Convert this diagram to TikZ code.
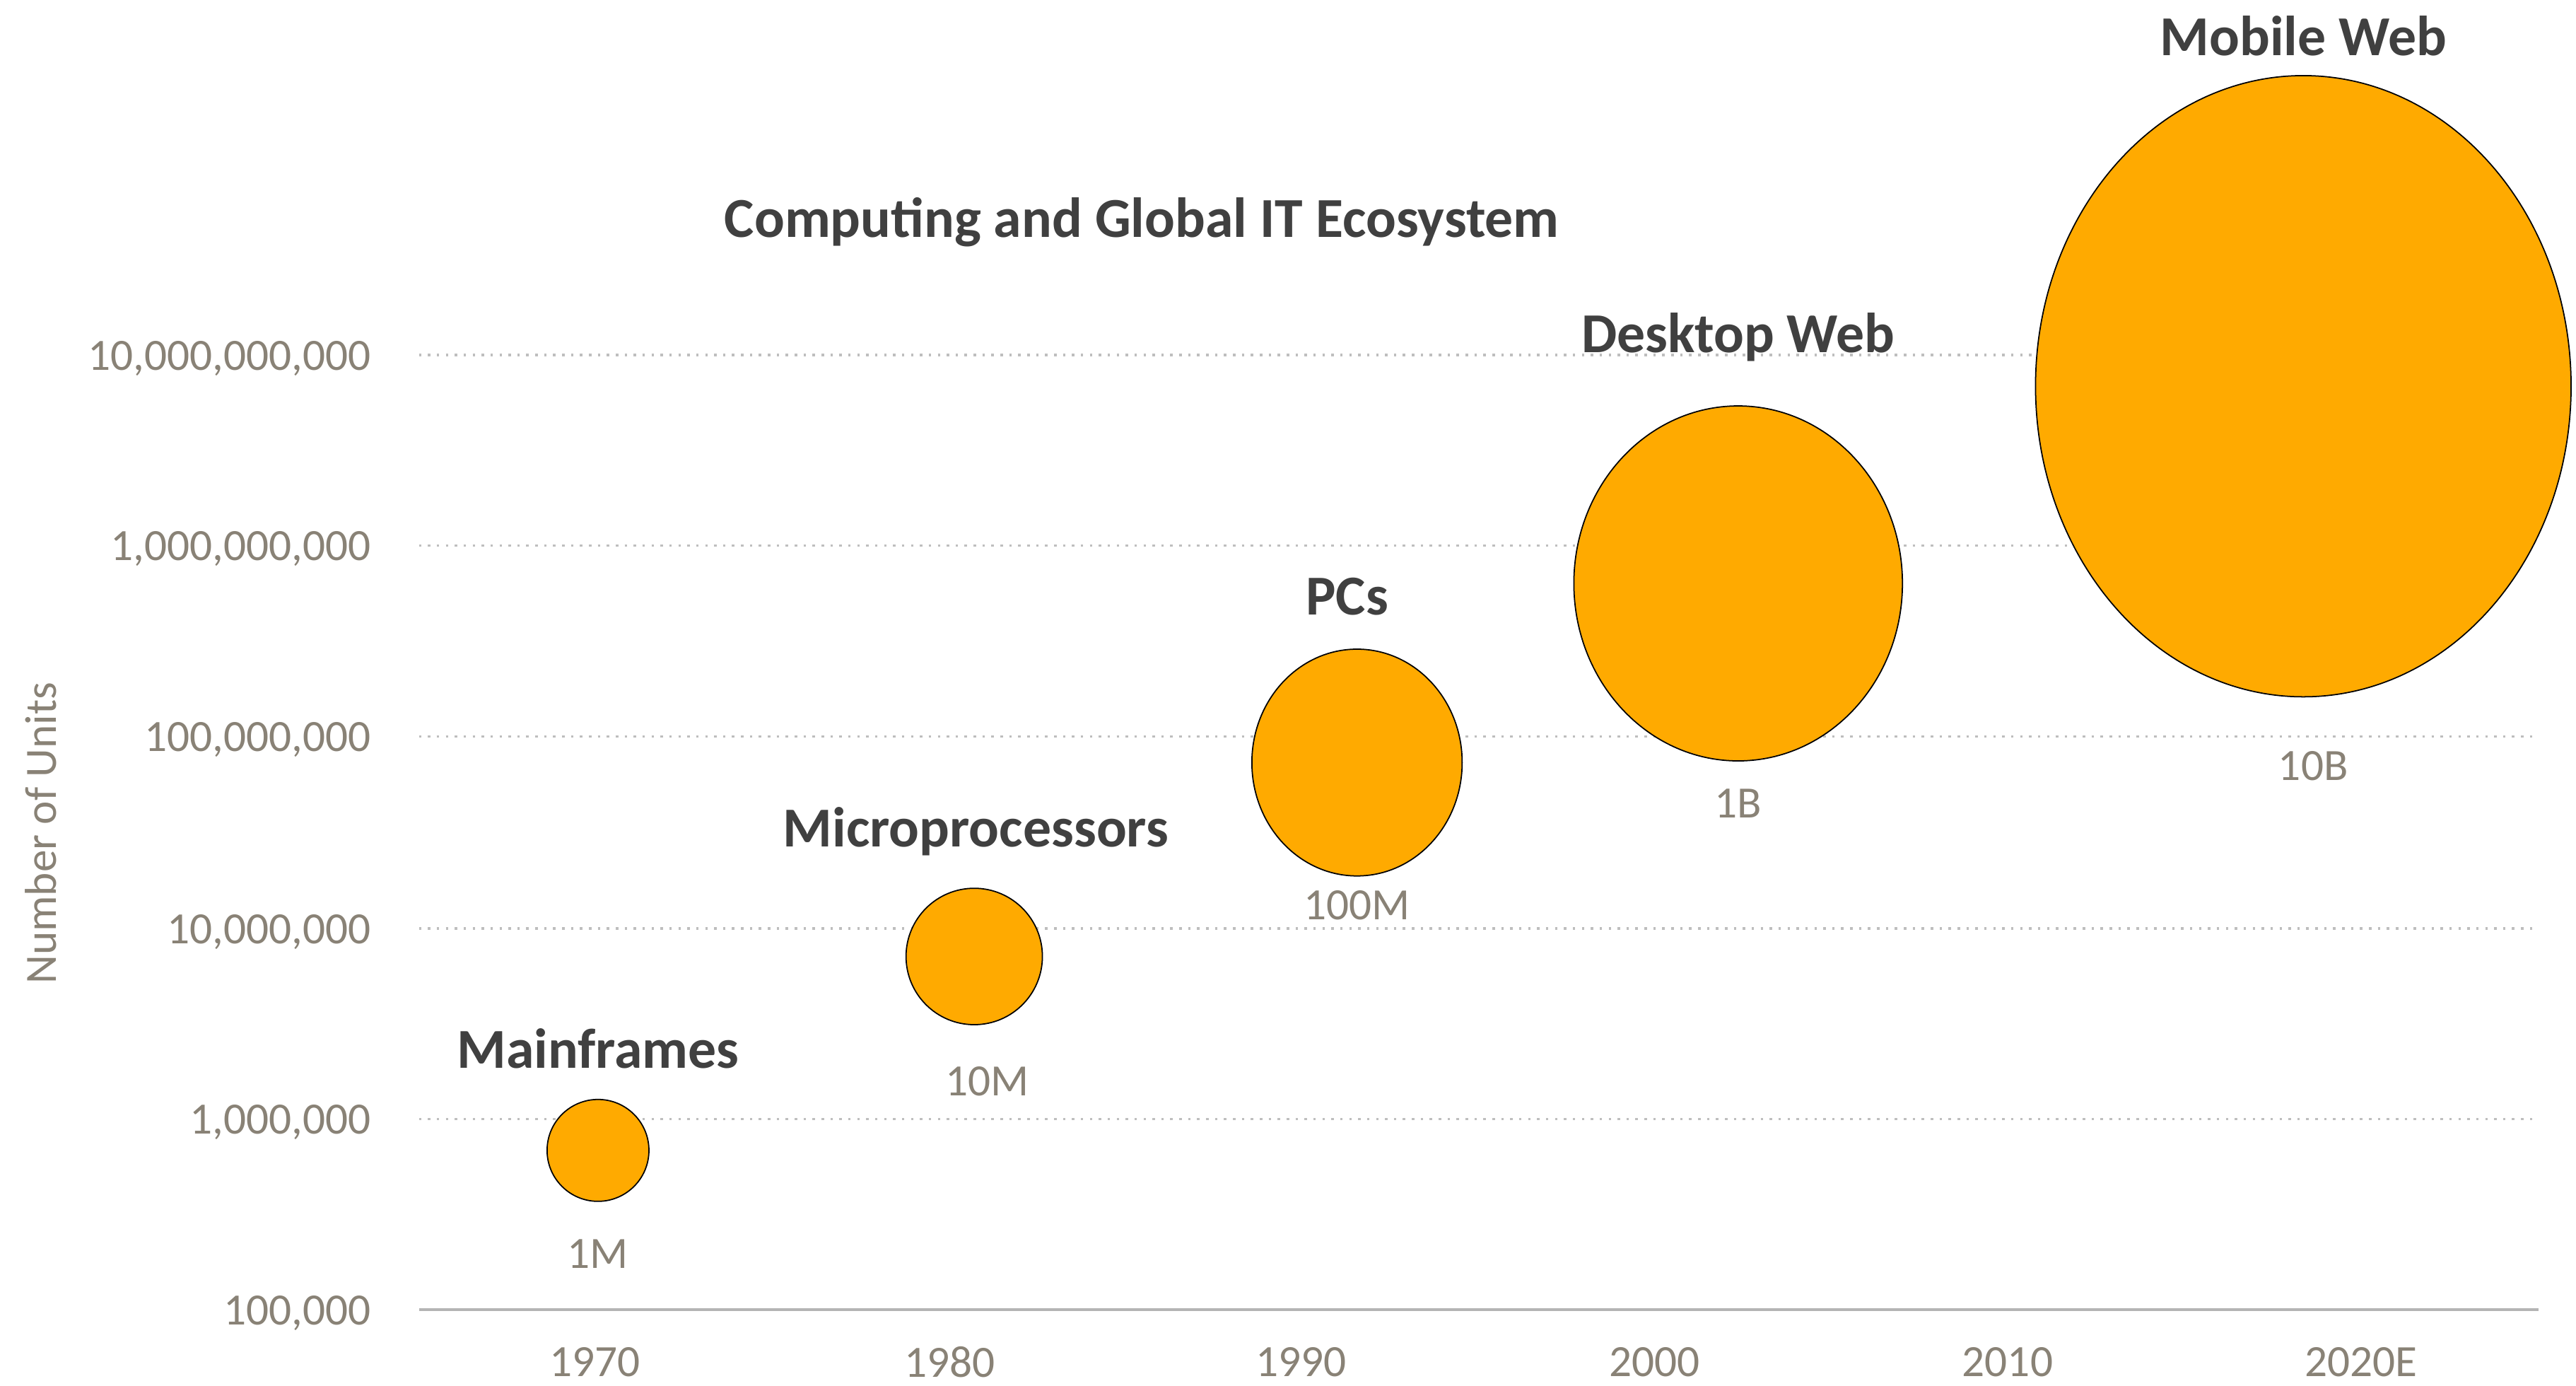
\documentclass[tikz,border=0pt]{standalone}
\usepackage{fontspec}
\setmainfont{Carlito}
\definecolor{bubbleorange}{RGB}{255,170,0}
\definecolor{labelgray}{RGB}{137,130,118}
\definecolor{titlegray}{RGB}{64,64,64}
\definecolor{gridgray}{RGB}{190,190,190}
\definecolor{axisgray}{RGB}{180,180,180}
\begin{document}
\begin{tikzpicture}[x=0.02324cm,y=-0.02324cm,
    bubble/.style={draw=black,line width=0.5pt,fill=bubbleorange},
    era/.style={text=titlegray,font=\fontsize{22.7}{26}\selectfont\bfseries},
    count/.style={text=labelgray,font=\fontsize{18}{21}\selectfont},
    gridline/.style={gridgray,line width=0.9pt,dash pattern=on 1pt off 2.6pt},
    axisline/.style={axisgray,line width=1.1pt}]
  \useasboundingbox (0,0) rectangle (1568,843);
  % grid lines and unit labels
  \foreach \y/\val [count=\i] in {216/{10,000,000,000},332/{1,000,000,000},448/{100,000,000},565/{10,000,000},681/{1,000,000}}{
    \draw[gridline] (255,\y) -- (1545,\y);
    \node[count,anchor=east] (ylab\i) at (231,\y+2) {\val};
  }
  \draw[axisline] (255,797) -- (1545,797);
  \node[count,anchor=east] (ylab6) at (231,799) {100,000};
  \node[count,rotate=90] (ytitle) at (25,507) {Number of Units};
  % years
  \foreach \x/\yr in {362/1970,578/1980,792/1990,1007/2000,1222/2010,1437/2020E}
    \node[count,inner sep=0pt] (year\yr) at (\x,829) {\yr};
  % bubbles
  \draw[bubble] (364,700) ellipse [x radius=31, y radius=31];
  \draw[bubble] (593,582) ellipse [x radius=41.5, y radius=41.5];
  \draw[bubble] (826,464) ellipse [x radius=64, y radius=69];
  \draw[bubble] (1058,355) ellipse [x radius=100, y radius=108];
  \draw[bubble] (1402,235) ellipse [x radius=163, y radius=189];
  % era names and unit counts
  \node[era] (title) at (695,135) {Computing and Global IT Ecosystem};
  \node[era] (mainframes) at (364,638) {Mainframes};
  \node[era] (micro) at (594,506) {Microprocessors};
  \node[era] (pcs) at (820,363) {PCs};
  \node[era] (desktop) at (1058,205) {Desktop Web};
  \node[era,inner sep=0pt] (mobile) at (1402,22) {Mobile Web};
  \node[count] (n1M) at (364,763) {1M};
  \node[count] (n10M) at (601,658) {10M};
  \node[count] (n100M) at (826,551) {100M};
  \node[count] (n1B) at (1058,489) {1B};
  \node[count] (n10B) at (1408,466) {10B};
\end{tikzpicture}
\end{document}
